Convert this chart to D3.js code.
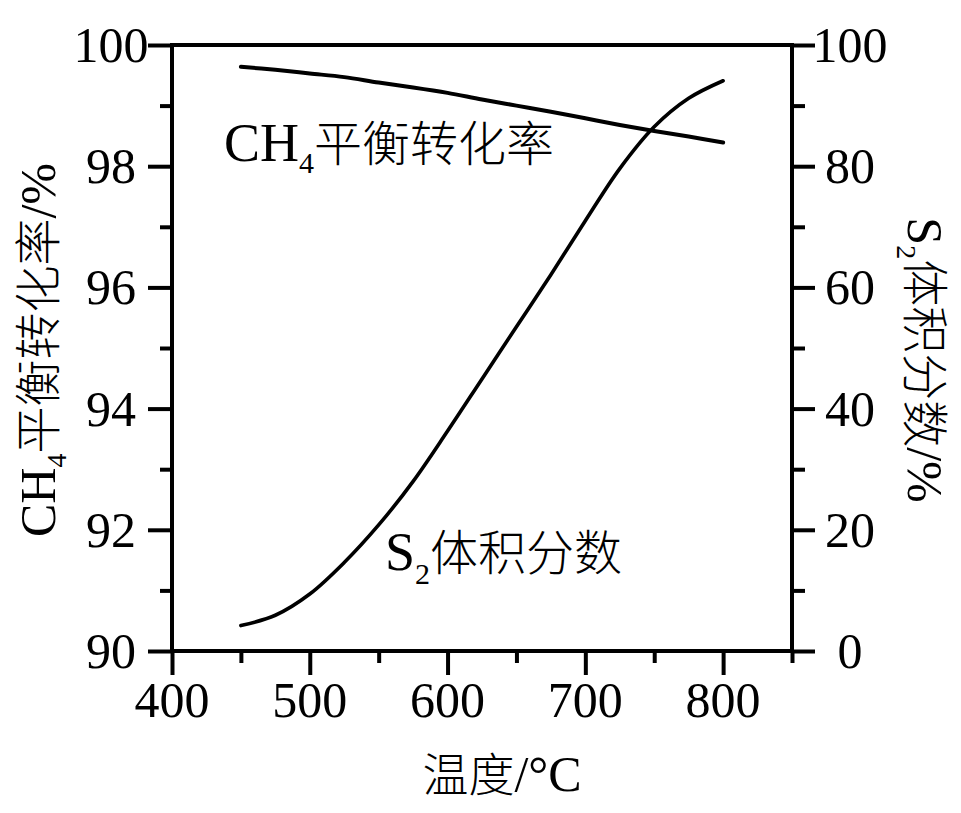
<!DOCTYPE html>
<html>
<head>
<meta charset="utf-8">
<script src="https://cdn.jsdelivr.net/npm/d3@7"></script>
<style>
html,body{margin:0;padding:0;background:#fff;}
svg{display:block;}
text{fill:#000;font-family:"Liberation Serif","Noto Sans CJK SC",serif;}
.cjk{font-family:"Liberation Serif","Noto Sans CJK SC",serif;font-weight:300;}
</style>
</head>
<body>
<svg id="chart" width="961" height="813"></svg>
<script>
const temps = [450,475,500,525,550,575,600,625,650,675,700,725,750,775,800];
const ch4Conversion = [99.64,99.59,99.53,99.47,99.38,99.30,99.21,99.10,99.00,98.90,98.79,98.68,98.58,98.49,98.39];
const s2Fraction = [4.2,5.9,9.4,14.6,20.8,28.0,36.3,44.9,53.5,62.1,71.0,79.6,86.5,91.2,94.1];
const xMajor = [400,500,600,700,800];
const xMinor = [450,550,650,750,850];
const yLeftMajor = [90,92,94,96,98,100];
const yLeftMinor = [91,93,95,97,99];
const yRightMajor = [0,20,40,60,80,100];
const yRightMinor = [10,30,50,70,90];

const svg = d3.select("#chart");
const L = 172, R = 792, T = 45, B = 651;
const x = d3.scaleLinear().domain([400,850]).range([L,R]);
const yL = d3.scaleLinear().domain([90,100]).range([B,T]);
const yR = d3.scaleLinear().domain([0,100]).range([B,T]);

const sw = 4;
function styleAxis(g){
  g.selectAll(".domain").remove();
  g.selectAll("line").attr("stroke","#000").attr("stroke-width",sw);
  g.selectAll("text").remove();
}
// frame lines
svg.append("line").attr("x1",L).attr("x2",R).attr("y1",T).attr("y2",T).attr("stroke","#000").attr("stroke-width",sw);
svg.append("line").attr("x1",L).attr("x2",R).attr("y1",B).attr("y2",B).attr("stroke","#000").attr("stroke-width",sw);
svg.append("line").attr("x1",L).attr("x2",L).attr("y1",T-2).attr("y2",B+2).attr("stroke","#000").attr("stroke-width",sw);
svg.append("line").attr("x1",R).attr("x2",R).attr("y1",T-2).attr("y2",B+2).attr("stroke","#000").attr("stroke-width",sw);

svg.append("g").attr("transform",`translate(${L},0)`).call(d3.axisLeft(yL).tickValues(yLeftMajor).tickSize(24)).call(styleAxis);
svg.append("g").attr("transform",`translate(${L},0)`).call(d3.axisLeft(yL).tickValues(yLeftMinor).tickSize(12)).call(styleAxis);
svg.append("g").attr("transform",`translate(${R},0)`).call(d3.axisRight(yR).tickValues(yRightMajor).tickSize(23)).call(styleAxis);
svg.append("g").attr("transform",`translate(${R},0)`).call(d3.axisRight(yR).tickValues(yRightMinor).tickSize(13)).call(styleAxis);
svg.append("g").attr("transform",`translate(0,${B})`).call(d3.axisBottom(x).tickValues(xMajor).tickSize(24)).call(styleAxis);
svg.append("g").attr("transform",`translate(0,${B})`).call(d3.axisBottom(x).tickValues(xMinor).tickSize(12)).call(styleAxis);

// tick labels
const fs = 50;
svg.selectAll(".ltl").data(yLeftMajor).enter().append("text")
  .attr("x",111).attr("y",d=>yL(d)).attr("dy","0.34em").attr("text-anchor","middle")
  .attr("font-size",fs).text(d=>d);
svg.selectAll(".rtl").data(yRightMajor).enter().append("text")
  .attr("x",850).attr("y",d=>yR(d)).attr("dy","0.34em").attr("text-anchor","middle")
  .attr("font-size",fs).text(d=>d);
svg.selectAll(".btl").data(xMajor).enter().append("text")
  .attr("x",d=>x(d)).attr("y",717).attr("text-anchor","middle")
  .attr("font-size",fs).text(d=>d);

// curves
const lineL = d3.line().x((d,i)=>x(temps[i])).y(d=>yL(d)).curve(d3.curveCatmullRom);
const lineR = d3.line().x((d,i)=>x(temps[i])).y(d=>yR(d)).curve(d3.curveCatmullRom);
svg.append("path").attr("d",lineL(ch4Conversion)).attr("fill","none").attr("stroke","#000").attr("stroke-width",4).attr("stroke-linecap","round");
svg.append("path").attr("d",lineR(s2Fraction)).attr("fill","none").attr("stroke","#000").attr("stroke-width",3.6).attr("stroke-linecap","round");

// inner labels
const t1 = svg.append("text").attr("x",224).attr("y",161).attr("font-size",54);
t1.append("tspan").text("CH");
t1.append("tspan").attr("font-size",30).attr("dy",12).text("4");
t1.append("tspan").attr("class","cjk").attr("font-size",48).attr("dy",-12).text("平衡转化率");

const t2 = svg.append("text").attr("x",385).attr("y",570).attr("font-size",54);
t2.append("tspan").text("S");
t2.append("tspan").attr("font-size",30).attr("dy",14).text("2");
t2.append("tspan").attr("class","cjk").attr("font-size",48).attr("dy",-14).text("体积分数");

// axis titles
const xt = svg.append("text").attr("x",502).attr("y",791).attr("text-anchor","middle").attr("font-size",50);
xt.append("tspan").attr("class","cjk").attr("font-size",46).text("温度");
xt.append("tspan").text("/°C");

const ylt = svg.append("text").attr("transform","translate(55,350) rotate(-90)").attr("text-anchor","middle").attr("font-size",50);
ylt.append("tspan").text("CH");
ylt.append("tspan").attr("font-size",28).attr("dy",11).text("4");
ylt.append("tspan").attr("class","cjk").attr("font-size",47).attr("dy",-11).text("平衡转化率");
ylt.append("tspan").text("/%");

const yrt = svg.append("text").attr("transform","translate(908,360) rotate(90)").attr("text-anchor","middle").attr("font-size",50);
yrt.append("tspan").text("S");
yrt.append("tspan").attr("font-size",28).attr("dy",11).text("2");
yrt.append("tspan").attr("class","cjk").attr("font-size",47).attr("dy",-11).text("体积分数");
yrt.append("tspan").text("/%");
</script>
</body>
</html>
